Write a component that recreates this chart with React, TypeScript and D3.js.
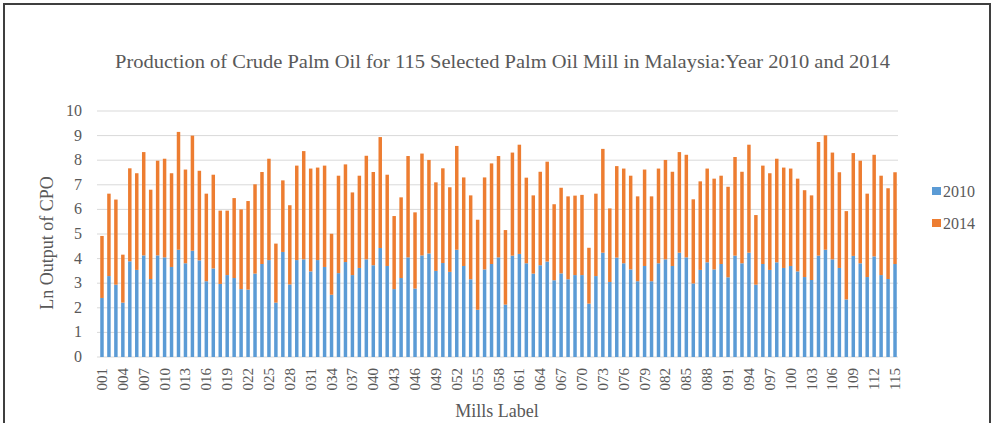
import React, { useEffect, useRef } from 'react';
import * as d3 from 'd3';

// mill ids 001..115
const mills: string[] = d3.range(1, 116).map((d) => d3.format('03')(d));

// Ln output, 2010 (bottom segment)
const y2010: number[] = [
  2.40, 3.29, 2.94, 2.21, 3.89, 3.54, 4.13, 3.17, 4.13, 4.05,
  3.66, 4.36, 3.81, 4.32, 3.93, 3.08, 3.60, 2.97, 3.33, 3.21,
  2.76, 2.74, 3.39, 3.78, 3.94, 2.21, 4.27, 2.95, 3.94, 3.97,
  3.48, 3.94, 3.66, 2.53, 3.41, 3.86, 3.33, 3.62, 3.97, 3.73,
  4.43, 3.70, 2.76, 3.21, 4.05, 2.78, 4.13, 4.21, 3.50, 3.82,
  3.46, 4.36, 3.70, 3.16, 1.92, 3.56, 3.78, 4.05, 2.13, 4.12,
  4.19, 3.81, 3.39, 3.73, 3.88, 3.12, 3.40, 3.16, 3.33, 3.33,
  2.17, 3.29, 4.24, 3.05, 4.04, 3.81, 3.56, 3.08, 3.70, 3.08,
  3.81, 3.97, 3.70, 4.24, 4.05, 2.99, 3.54, 3.85, 3.56, 3.78,
  3.24, 4.12, 3.81, 4.24, 2.94, 3.78, 3.54, 3.85, 3.62, 3.70,
  3.48, 3.25, 3.13, 4.12, 4.36, 3.97, 3.62, 2.34, 4.11, 3.81,
  3.25, 4.09, 3.33, 3.17, 3.78
];

// Ln output, 2014 (stacked on top)
const y2014: number[] = [
  2.52, 3.35, 3.46, 1.95, 3.78, 3.93, 4.20, 3.63, 3.85, 4.01,
  3.81, 4.79, 3.81, 4.68, 3.64, 3.56, 3.81, 2.98, 2.62, 3.25,
  3.24, 3.60, 3.63, 3.74, 4.12, 2.40, 2.91, 3.22, 3.84, 4.40,
  4.18, 3.76, 4.12, 2.48, 3.96, 3.97, 3.36, 3.75, 4.21, 3.79,
  4.51, 3.71, 2.97, 3.28, 4.12, 3.10, 4.14, 3.80, 3.60, 3.85,
  3.44, 4.22, 3.60, 3.41, 3.66, 3.74, 4.09, 4.12, 3.03, 4.19,
  4.44, 3.48, 3.18, 3.80, 4.06, 3.09, 3.48, 3.37, 3.23, 3.26,
  2.27, 3.35, 4.22, 2.99, 3.72, 3.85, 3.81, 3.45, 3.92, 3.45,
  3.85, 4.04, 3.83, 4.09, 4.17, 3.42, 3.60, 3.81, 3.69, 3.59,
  3.68, 4.01, 3.72, 4.39, 2.83, 4.00, 3.93, 4.21, 4.08, 3.96,
  3.77, 3.53, 3.44, 4.62, 4.65, 4.34, 3.89, 3.59, 4.18, 4.17,
  3.39, 4.13, 4.04, 3.69, 3.73
];

const seriesNames = ['2010', '2014'];
const colors = ['#5B9BD5', '#ED7D31'];
const yTicks = d3.range(0, 11);

const W = 993;
const H = 423;
const FONT = '"Liberation Serif", "Times New Roman", serif';
const TEXT = '#595959';

const App = () => {
  const svgRef = useRef<SVGSVGElement>(null);

  useEffect(() => {
    const svg = d3.select(svgRef.current);
    svg.selectAll('*').remove();

    const x = d3
      .scaleBand<string>()
      .domain(mills)
      .range([98.5, 898.5])
      .paddingInner(0.5)
      .paddingOuter(0.25);

    const y = d3.scaleLinear().domain([0, 10]).range([357, 111]);

    // outer frame
    svg
      .append('rect')
      .attr('x', 4)
      .attr('y', 4)
      .attr('width', 986)
      .attr('height', 440)
      .attr('fill', 'none')
      .attr('stroke', '#3f3f3f')
      .attr('stroke-width', 2);

    // title
    svg
      .append('text')
      .attr('x', 115)
      .attr('y', 68)
      .attr('textLength', 775)
      .attr('lengthAdjust', 'spacingAndGlyphs')
      .attr('font-family', FONT)
      .attr('font-size', 19)
      .attr('fill', TEXT)
      .text('Production of Crude Palm Oil for 115 Selected Palm Oil Mill in Malaysia:Year  2010 and 2014');

    // gridlines
    svg
      .append('g')
      .selectAll('line')
      .data(yTicks)
      .join('line')
      .attr('x1', 97)
      .attr('x2', 898)
      .attr('y1', (d) => y(d))
      .attr('y2', (d) => y(d))
      .attr('stroke', '#d9d9d9')
      .attr('stroke-width', 1);

    // y tick labels
    svg
      .append('g')
      .selectAll('text')
      .data(yTicks)
      .join('text')
      .attr('x', 82)
      .attr('y', (d) => y(d) + 5)
      .attr('text-anchor', 'end')
      .attr('font-family', FONT)
      .attr('font-size', 16)
      .attr('fill', TEXT)
      .text((d) => d);

    // stacked bars
    const rows = mills.map((m, i) => ({ mill: m, '2010': y2010[i], '2014': y2014[i] }));
    const stacked = d3.stack<any>().keys(seriesNames)(rows);

    svg
      .append('g')
      .selectAll('g')
      .data(stacked)
      .join('g')
      .attr('fill', (d, i) => colors[i])
      .selectAll('rect')
      .data((d) => d)
      .join('rect')
      .attr('x', (d) => x(d.data.mill)!)
      .attr('y', (d) => y(d[1]))
      .attr('width', x.bandwidth())
      .attr('height', (d) => y(d[0]) - y(d[1]));

    // x tick labels (every third mill)
    svg
      .append('g')
      .selectAll('text')
      .data(mills.filter((d, i) => i % 3 === 0))
      .join('text')
      .attr('transform', (d) => `translate(${x(d)! + x.bandwidth() / 2 + 5},368) rotate(-90)`)
      .attr('text-anchor', 'end')
      .attr('font-family', FONT)
      .attr('font-size', 15)
      .attr('fill', TEXT)
      .text((d) => d);

    // axis titles
    svg
      .append('text')
      .attr('x', 497)
      .attr('y', 417)
      .attr('text-anchor', 'middle')
      .attr('font-family', FONT)
      .attr('font-size', 18)
      .attr('fill', TEXT)
      .text('Mills Label');

    svg
      .append('text')
      .attr('transform', 'translate(53,243) rotate(-90)')
      .attr('text-anchor', 'middle')
      .attr('font-family', FONT)
      .attr('font-size', 18)
      .attr('fill', TEXT)
      .text('Ln Output of CPO');

    // legend
    const legend = svg
      .append('g')
      .selectAll('g')
      .data(seriesNames)
      .join('g')
      .attr('transform', (d, i) => `translate(932,${187 + i * 32})`);

    legend
      .append('rect')
      .attr('width', 9)
      .attr('height', 8)
      .attr('fill', (d, i) => colors[i]);

    legend
      .append('text')
      .attr('x', 11)
      .attr('y', 10)
      .attr('font-family', FONT)
      .attr('font-size', 16)
      .attr('fill', TEXT)
      .text((d) => d);
  }, []);

  return (
    <svg
      ref={svgRef}
      width={W}
      height={H}
      style={{ position: 'absolute', left: 0, top: 0, background: '#fff' }}
    ></svg>
  );
};

export default App;
